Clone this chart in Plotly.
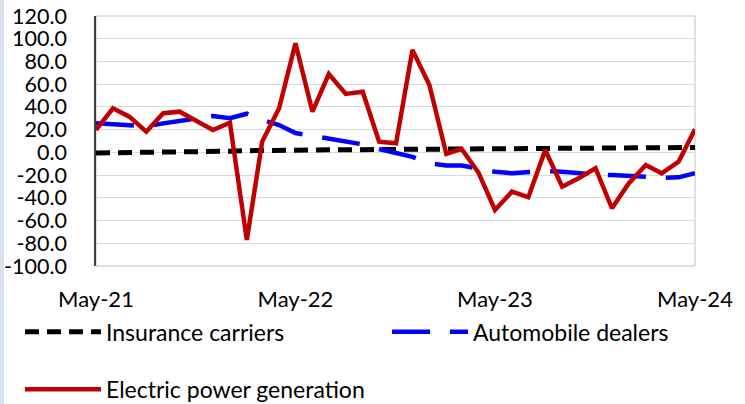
import pandas as pd
import plotly.graph_objects as go

months = pd.date_range("2021-05-01", "2024-05-01", freq="MS")

insurance = [-0.5, -0.4, -0.3, -0.2, -0.1, 0.0, 0.2, 0.5, 1.0, 1.5, 1.8, 2.0, 2.1,
             2.2, 2.2, 2.3, 2.4, 2.5, 2.6, 2.8, 3.0, 3.2, 3.4, 3.5, 3.6, 3.7, 3.8,
             3.9, 4.0, 4.0, 4.1, 4.1, 4.2, 4.2, 4.2, 4.3, 4.3]
auto = [25.6, 25.0, 23.5, 23.0, 25.5, 27.5, 30.0, 32.0, 30.0, 34.0, 28.5, 24.0, 17.0,
        14.3, 12.0, 10.0, 7.0, 3.0, -1.0, -4.0, -9.6, -11.5, -11.5, -14.0, -17.0,
        -18.4, -17.5, -16.5, -17.0, -18.5, -19.5, -20.0, -20.5, -21.5, -22.5, -22.0, -18.4]
electric = [19.7, 38.8, 31.4, 18.2, 34.4, 35.8, 27.6, 19.7, 26.1, -77.1, 9.4, 38.8, 96.0,
            35.8, 69.0, 51.4, 53.4, 9.4, 8.0, 90.1, 59.3, -1.4, 3.0, -18.0, -50.7, -34.6,
            -39.5, 2.1, -30.2, -22.8, -14.0, -49.2, -27.2, -11.1, -18.4, -8.2, 20.3]

names = ["Insurance carriers", "Automobile dealers", "Electric power generation"]
x_tick_dates = ["2021-05-01", "2022-05-01", "2023-05-01", "2024-05-01"]
x_tick_labels = ["May-21", "May-22", "May-23", "May-24"]
y_tick_vals = [-100, -80, -60, -40, -20, 0, 20, 40, 60, 80, 100, 120]
y_tick_labels = ["-100.0", "-80.0", "-60.0", "-40.0", "-20.0", "0.0", "20.0",
                 "40.0", "60.0", "80.0", "100.0", "120.0"]

FONT = "Lato"
W, H = 745, 404

fig = go.Figure()
fig.add_trace(go.Scatter(x=months, y=insurance, name=names[0], mode="lines",
                         line=dict(color="#000000", width=5, dash="14px,8px"),
                         legend="legend"))
fig.add_trace(go.Scatter(x=months, y=auto, name=names[1], mode="lines",
                         line=dict(color="#0000ff", width=4.5, dash="38px,20px"),
                         legend="legend2"))
fig.add_trace(go.Scatter(x=months, y=electric, name=names[2], mode="lines",
                         line=dict(color="#c00000", width=4.5),
                         legend="legend3"))


def leg(px, py):
    return dict(xref="container", yref="container", x=px / W, y=1 - py / H,
                xanchor="left", yanchor="middle", orientation="h",
                font=dict(family=FONT, size=23), itemwidth=76,
                bgcolor="rgba(0,0,0,0)")


fig.update_layout(
    width=W, height=H, showlegend=True,
    margin=dict(l=96, r=50, t=16, b=138, autoexpand=False),
    paper_bgcolor="white", plot_bgcolor="white",
    font=dict(family=FONT, size=21, color="#000000"),
    xaxis=dict(range=["2021-05-01", "2024-05-01"], tickvals=x_tick_dates,
               ticktext=x_tick_labels, ticks="", showgrid=False, zeroline=False,
               showline=False, ticklabelstandoff=18, tickfont=dict(size=22)),
    xaxis2=dict(overlaying="x", matches="x", anchor="free", position=100 / 220,
                tickvals=x_tick_dates, showticklabels=False, ticks="outside",
                ticklen=5, tickwidth=1, tickcolor="#000000", showline=True,
                linecolor="#000000", linewidth=1, showgrid=False, zeroline=False),
    yaxis=dict(range=[-100, 120], tickvals=y_tick_vals, ticktext=y_tick_labels,
               showgrid=True, gridcolor="#d9d9d9", gridwidth=1, zeroline=False,
               showline=True, linecolor="#404040", linewidth=1.5, ticks="",
               ticklabelstandoff=23, tickfont=dict(size=21.5)),
    legend=leg(20, 331.7),
    legend2=leg(387, 331.7),
    legend3=leg(20, 389.3),
    shapes=[
        dict(type="rect", xref="paper", yref="paper", x0=0, x1=1, y0=0, y1=1,
             line=dict(color="#bfbfbf", width=1), layer="below"),
        dict(type="rect", xref="paper", yref="paper", x0=-96 / 599, x1=-92 / 599,
             y0=-0.6, y1=1.1, line=dict(width=0), fillcolor="#dae3f3", layer="below"),
    ],
)

fig.write_html("out.html", config={"displayModeBar": False},
               post_script="document.body.style.margin='0px';")
